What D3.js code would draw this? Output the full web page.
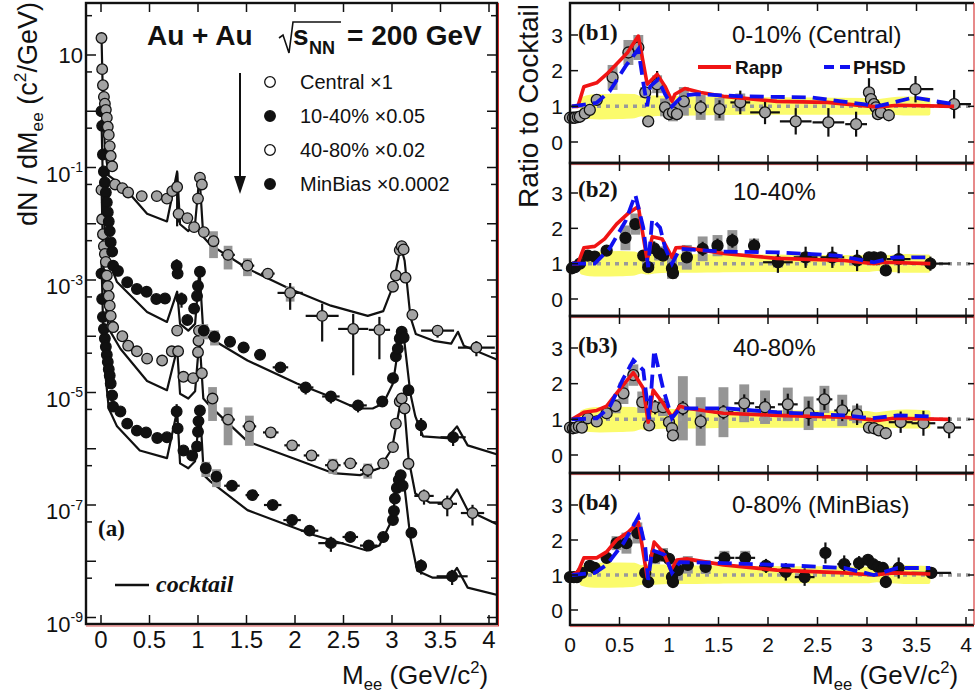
<!DOCTYPE html>
<html><head><meta charset="utf-8">
<script src="https://cdn.jsdelivr.net/npm/d3@7"></script>
<style>
body{margin:0;background:#fff}
svg{display:block}
text{font-family:"Liberation Sans",Arial,Helvetica,sans-serif;fill:#111}
</style></head>
<body>
<svg id="c" width="976" height="697"></svg>
<script>
// ---------------- DATA: left panel (a) ----------------
// points: [M (GeV/c2), dN/dM, x half-width, rel. stat err, rel. sys err]
const central = [[0.005,20],[0.012,5.6],[0.02,2.9],[0.03,1.8],[0.04,1.36],[0.05,1.06],[0.06,0.77],[0.07,0.53],[0.08,0.38],[0.09,0.24],[0.10,0.16],[0.115,0.105],[0.145,0.05],[0.22,0.043],[0.28,0.036],[0.42,0.031],[0.575,0.031],[0.68,0.028],[0.735,0.038],[0.785,0.045,0,0.8,0],[0.80,0.015,0,0.3,0],[0.89,0.0126],[0.96,0.0087],[1.0,0.028],[1.02,0.066],[1.04,0.05],[1.06,0.0071,0,0.1,0],[1.16,0.0049,0,0.1,0.5],[1.31,0.0028,0.07,0.2,0.45],[1.51,0.0018,0.07,0.2,0.35],[1.72,0.0013,0.07,0.15,0.1],[1.95,5.9e-4,0.13,0.5,0.3],[2.28,2.3e-4,0.17,0.65,0],[2.60,1.35e-4,0.155,0.85,0],[2.87,1.3e-4,0.11,0.7,0],[3.01,7.6e-4],[3.04,1.2e-3],[3.08,3.4e-3],[3.10,4.0e-3],[3.12,3.5e-3],[3.14,1.1e-3],[3.21,2.4e-4,0.03,0.1,0],[3.47,1.26e-4,0.17,0.25,0],[3.87,6.3e-5,0.19,0.3,0]];
const semi = [[0.005,1.0],[0.012,0.55],[0.02,0.17],[0.03,0.085],[0.04,0.054],[0.05,0.036],[0.06,0.024],[0.07,0.016],[0.08,0.011],[0.09,7.4e-3],[0.10,4.7e-3],[0.115,3.2e-3],[0.125,1.8e-3],[0.175,1.45e-3],[0.27,9.1e-4],[0.37,6.9e-4],[0.47,6.2e-4],[0.57,4.6e-4],[0.66,4.7e-4],[0.78,1.8e-3,0,0.3,0],[0.79,1.3e-3],[0.83,4.6e-4,0,0.3,0],[0.89,1.95e-4],[0.96,3.1e-4],[0.99,5.2e-4],[1.0,7.8e-4],[1.02,1.4e-3],[1.06,1.26e-4,0,0,0.3],[1.17,9.8e-5,0,0.1,0.3],[1.33,8.0e-5,0.06,0.15,0],[1.47,6.3e-5,0.06,0.15,0],[1.64,4.7e-5,0.06,0.2,0],[1.85,2.8e-5,0.08,0.2,0],[2.11,1.23e-5,0.08,0.25,0],[2.37,8.5e-6,0.09,0.25,0],[2.65,5.9e-6,0.09,0.25,0],[2.90,6.9e-6,0.06,0.2,0],[3.01,1.8e-5],[3.04,4.4e-5],[3.06,6.0e-5],[3.08,9.1e-5],[3.10,1.2e-4],[3.12,9.5e-5],[3.17,1.1e-5,0.03,0.2,0],[3.30,2.6e-6,0.06,0.35,0],[3.63,1.6e-6,0.13,0.3,0]];
const periph = [[0.005,0.04],[0.012,0.012],[0.02,6.5e-3],[0.03,4.0e-3],[0.04,2.9e-3],[0.05,2.1e-3],[0.06,1.2e-3],[0.07,7.8e-4],[0.08,5.2e-4],[0.09,3.5e-4],[0.10,2.3e-4],[0.115,1.5e-4],[0.125,1.45e-4],[0.22,1.0e-4],[0.28,6.8e-5],[0.37,5.4e-5],[0.475,4.0e-5],[0.63,3.7e-5],[0.73,5.4e-5],[0.785,1.26e-4],[0.795,5.4e-5],[0.85,1.9e-5],[0.95,1.8e-5],[1.0,5.2e-5],[1.005,8.3e-5],[1.01,1.26e-4],[1.04,2.2e-5],[1.15,7.8e-6,0,0.1,0.6],[1.31,3.3e-6,0.07,0.15,0.65],[1.53,2.5e-6,0.07,0.15,0.55],[1.75,1.95e-6,0.08,0.15,0.2],[1.97,1.15e-6,0.08,0.2,0.2],[2.17,7.6e-7,0.08,0.2,0.2],[2.39,5.1e-7,0.08,0.25,0.3],[2.57,5.5e-7,0.07,0.2,0],[2.75,4.2e-7,0.08,0.25,0.3],[2.91,5.5e-7,0.06,0.2,0],[3.01,1.07e-6],[3.04,2.8e-6],[3.08,6.9e-6],[3.10,7.8e-6],[3.13,5.2e-6],[3.17,5.4e-7,0,0.15,0],[3.33,1.45e-7,0.1,0.3,0],[3.57,1.05e-7,0.1,0.4,0],[3.83,7.2e-8,0.12,0.4,0]];
const minbias = [[0.005,1.3e-3],[0.012,4.6e-4],[0.02,2.2e-4],[0.03,1.35e-4],[0.04,9.1e-5],[0.05,6.5e-5],[0.06,4.7e-5],[0.07,3.5e-5],[0.08,2.6e-5],[0.09,2.0e-5],[0.10,1.45e-5],[0.115,8.9e-6],[0.125,5.6e-6],[0.2,4.6e-6],[0.27,2.8e-6],[0.37,2.1e-6],[0.465,1.95e-6],[0.58,1.55e-6],[0.68,1.6e-6],[0.78,4.6e-6,0,0.35,0],[0.79,2.3e-6],[0.85,9.3e-7],[0.94,7.6e-7],[0.99,1.1e-6],[1.0,2.0e-6],[1.005,3.1e-6],[1.02,4.8e-6],[1.08,4.5e-7,0,0,0.3],[1.19,3.2e-7,0,0.1,0.35],[1.35,2.2e-7,0.08,0.15,0],[1.56,1.5e-7,0.07,0.15,0],[1.77,1.0e-7,0.09,0.15,0],[1.97,5.4e-8,0.09,0.2,0],[2.15,3.5e-8,0.09,0.2,0],[2.37,2.1e-8,0.13,0.3,0],[2.57,2.7e-8,0.08,0.2,0],[2.76,1.9e-8,0.09,0.2,0],[2.91,2.7e-8,0.06,0.2,0],[3.01,5.4e-8],[3.02,7.8e-8],[3.03,1.3e-7],[3.05,2.0e-7],[3.07,2.8e-7],[3.09,3.4e-7],[3.11,2.2e-7],[3.20,3.2e-8,0,0.15,0],[3.30,8.3e-9,0.06,0.3,0],[3.62,5.4e-9,0.16,0.3,0]];
// cocktails [M, dN/dM]
const cocktailCentral = [[0.005,22.6],[0.02,1.6],[0.04,0.21],[0.08,0.072],[0.23,0.046],[0.475,0.015],[0.68,0.011],[0.785,0.085],[0.815,0.0098],[0.9,0.0074],[0.97,0.01],[1.015,0.072],[1.055,0.0058],[1.13,0.0042],[1.51,0.0016],[1.95,6.9e-4],[2.37,3.5e-4],[2.75,2.3e-4],[2.91,2.8e-4],[3.01,7.8e-4],[3.09,4.0e-3],[3.13,2.2e-3],[3.19,2.2e-4],[3.245,1.1e-4],[3.43,8.3e-5],[3.61,7.4e-5],[3.68,1.2e-4],[3.74,6.8e-5],[4.09,3.8e-5]];
const cocktailSemi = [[0.005,0.71],[0.02,0.05],[0.04,6.5e-3],[0.08,2.2e-3],[0.165,9.2e-4],[0.475,2.7e-4],[0.68,1.8e-4],[0.785,6.2e-4],[0.815,1.66e-4],[0.9,1.26e-4],[0.97,1.66e-4],[1.015,1.55e-3],[1.055,1.15e-4],[1.13,9.1e-5],[1.51,3.7e-5],[2.02,1.45e-5],[2.36,8.5e-6],[2.64,5.2e-6],[2.80,5.2e-6],[2.91,6.4e-6],[3.01,1.45e-5],[3.09,1.2e-4],[3.13,7.4e-5],[3.19,9.5e-6],[3.24,3.8e-6],[3.32,1.66e-6],[3.57,1.55e-6],[3.67,2.5e-6],[3.78,1.15e-6],[4.09,7.9e-7]];
const cocktailPeriph = [[0.005,0.05],[0.02,3.5e-3],[0.04,4.6e-4],[0.08,1.35e-4],[0.2,6.0e-5],[0.475,1.6e-5],[0.68,1.1e-5],[0.785,6.0e-5],[0.815,9.5e-6],[0.9,7.8e-6],[0.97,1.05e-5],[1.015,9.1e-5],[1.055,7.8e-6],[1.13,5.6e-6],[1.51,1.35e-6],[1.98,6.8e-7],[2.39,3.7e-7],[2.67,3.4e-7],[2.87,4.5e-7],[3.0,1.0e-6],[3.09,6.9e-6],[3.13,4.8e-6],[3.17,6.8e-7],[3.24,1.6e-7],[3.39,1.1e-7],[3.57,1.1e-7],[3.67,1.9e-7],[3.78,8.1e-8],[4.09,4.5e-8]];
const cocktailMinBias = [[0.005,2.3e-3],[0.02,2.0e-4],[0.04,2.6e-5],[0.08,5.2e-6],[0.165,2.5e-6],[0.4,9.3e-7],[0.68,6.8e-7],[0.785,4.8e-6],[0.815,5.5e-7],[0.9,4.5e-7],[0.97,6.0e-7],[1.02,5.2e-6],[1.06,3.4e-7],[1.13,2.6e-7],[1.51,8.1e-8],[2.2,2.9e-8],[2.74,1.55e-8],[2.87,1.9e-8],[3.0,5.4e-8],[3.06,3.0e-7],[3.1,3.7e-7],[3.13,2.0e-7],[3.19,2.6e-8],[3.26,6.8e-9],[3.42,5.1e-9],[3.6,5.1e-9],[3.67,7.6e-9],[3.78,3.4e-9],[4.09,2.5e-9]];
const legendLabels = ["Central \u00d71","10-40% \u00d70.05","40-80% \u00d70.02","MinBias \u00d70.0002"];
const xTicks = [0,0.5,1,1.5,2,2.5,3,3.5,4];
const yDecades = [1,0,-1,-2,-3,-4,-5,-6,-7,-8,-9];
const yLabelExp = [1,-1,-3,-5,-7,-9];

// ---------------- DATA: right panels (b1-b4) ----------------
// points: [M, ratio, x half-width, stat err, sys err]
const ratioCentral = [[0.0,0.68],[0.03,0.68],[0.05,0.68],[0.08,0.70],[0.10,0.71],[0.15,0.80],[0.20,0.90],[0.27,1.18,0,0.1,0.1],[0.43,1.81,0,0.1,0.35],[0.59,2.51,0,0.12,0.35],[0.69,2.65,0,0.15,0.35],[0.76,1.39,0,0.12,0.15],[0.79,0.58,0,0.1,0],[0.88,1.62,0,0.37,0.25],[0.96,0.97,0,0.1,0.25],[1.0,0.78],[1.04,0.83,0,0,0.25],[1.08,0.78],[1.15,1.14,0,0.1,0.4],[1.32,0.97,0.05,0.2,0.35],[1.51,0.92,0.05,0.25,0.32],[1.72,1.11,0.1,0.33,0.25],[1.97,0.83,0.15,0.33,0],[2.28,0.58,0.16,0.37,0],[2.61,0.55,0.16,0.4,0],[2.89,0.50,0.11,0.35,0],[3.02,1.39,0,0.4,0],[3.04,1.20],[3.07,1.06],[3.09,0.97],[3.11,0.78],[3.14,0.83],[3.22,0.75],[3.49,1.48,0.18,0.37,0],[3.88,1.06,0.17,0.4,0]];
const ratioSemi = [[0.02,0.87],[0.05,0.9],[0.1,1.0],[0.18,1.23,0,0.1,0],[0.25,1.2,0,0.1,0],[0.37,1.37,0,0.1,0.1],[0.56,1.73,0,0.15,0.35],[0.66,2.12,0,0.15,0.3],[0.74,1.23,0,0.15,0],[0.79,0.9],[0.85,1.43,0,0.2,0],[0.9,1.29,0,0.15,0.2],[0.94,1.23],[1.03,0.87,0,0.1,0.3],[1.04,0.73],[1.18,1.18,0,0.15,0.35],[1.34,1.42,0,0.2,0.35],[1.49,1.51,0,0.2,0.3],[1.64,1.65,0,0.2,0.3],[1.86,1.51,0.06,0.2,0.2],[2.1,1.04,0.15,0.3,0.15],[2.38,1.18,0.12,0.3,0.15],[2.65,1.18,0.12,0.3,0.15],[2.9,1.09,0.08,0.3,0.1],[3.02,1.18],[3.07,1.18],[3.1,1.13],[3.14,1.18],[3.19,0.81],[3.32,1.13,0.12,0.4,0],[3.64,1.0,0.2,0.2,0]];
const ratioPeriph = [[0.0,0.77],[0.03,0.75],[0.06,0.77],[0.09,0.8],[0.12,0.77],[0.18,1.03,0,0.1,0],[0.27,0.94],[0.37,1.17,0,0.1,0],[0.46,1.37,0,0.1,0.2],[0.54,1.73,0,0.15,0.3],[0.64,2.24,0,0.15,0.3],[0.73,1.48,0,0.15,0.3],[0.80,0.83],[0.86,1.34,0,0.2,0],[0.94,1.34,0,0.15,0.25],[1.0,0.92],[1.03,0.75],[1.04,0.55],[1.14,1.31,0,0.2,0.9],[1.32,0.94,0,0.2,0.68],[1.55,1.2,0.1,0.2,0.7],[1.76,1.45,0.1,0.25,0.53],[1.97,1.34,0.1,0.25,0.47],[2.2,1.42,0.1,0.3,0.47],[2.41,1.17,0.1,0.35,0.47],[2.57,1.56,0.08,0.3,0.38],[2.75,1.25,0.08,0.3,0.44],[2.9,1.14,0.06,0.3,0.25],[3.02,0.77],[3.07,0.75],[3.12,0.69],[3.19,0.61],[3.34,0.92,0.12,0.3,0],[3.57,0.89,0.12,0.35,0],[3.83,0.77,0.12,0.3,0]];
const ratioMinBias = [[0.0,0.94],[0.04,0.94],[0.07,0.94],[0.12,1.06],[0.2,1.26,0,0.1,0],[0.25,1.2],[0.37,1.49,0,0.1,0],[0.47,1.91,0,0.1,0.2],[0.57,1.91,0,0.1,0.3],[0.68,2.2,0,0.12,0.3],[0.76,1.06,0,0.15,0],[0.79,0.8],[0.86,1.51,0,0.15,0.2],[0.94,1.57,0,0.1,0.2],[1.0,1.46],[1.03,0.94],[1.04,0.8],[1.09,1.14,0,0.1,0.3],[1.19,1.29,0,0.1,0.25],[1.37,1.23,0,0.1,0.2],[1.56,1.49,0.1,0.1,0.2],[1.77,1.49,0.1,0.12,0.2],[1.98,1.26,0.07,0.2,0],[2.18,1.09,0.07,0.25,0],[2.37,0.94,0.1,0.25,0],[2.58,1.63,0,0.3,0],[2.77,1.31,0.07,0.25,0],[2.92,1.34,0.05,0.2,0],[3.01,1.43],[3.06,1.31],[3.11,1.23],[3.16,1.2],[3.19,0.8],[3.32,1.2,0.06,0.3,0],[3.65,1.06,0.2,0.1,0]];
const rappCentral = [[0.02,1.0],[0.08,1.0],[0.14,1.55],[0.27,1.66],[0.37,1.9],[0.58,2.5],[0.69,2.97],[0.78,1.62],[0.88,1.9],[0.96,1.56],[1.03,1.14],[1.06,1.34],[1.16,1.5],[1.32,1.39],[1.55,1.28],[2.09,1.14],[2.6,1.11],[3.04,1.0],[3.11,0.98],[3.31,1.03],[3.88,1.0]];
const phsdCentral = [[0.02,1.0],[0.27,1.1],[0.40,1.42],[0.56,2.12],[0.69,2.6],[0.74,1.67],[0.78,1.0],[0.81,1.56],[0.89,1.75],[0.96,1.34],[1.03,1.0],[1.14,1.3],[1.28,1.34],[1.75,1.28],[2.43,1.25],[2.96,1.06],[3.10,1.0],[3.27,1.11],[3.47,1.25],[3.88,1.06]];
const rappSemi = [[0.02,1.0],[0.08,1.0],[0.14,1.45],[0.25,1.49],[0.35,1.7],[0.47,2.12],[0.59,2.43],[0.69,2.62],[0.78,1.09],[0.83,1.76],[0.93,1.7],[1.03,1.18],[1.07,1.45],[1.16,1.46],[1.55,1.29],[2.09,1.15],[2.77,1.09],[3.07,1.0],[3.17,1.04],[3.64,1.0]];
const phsdSemi = [[0.02,1.0],[0.25,1.0],[0.40,1.43],[0.56,2.2],[0.66,2.95],[0.74,2.02],[0.79,0.9],[0.83,2.26],[0.91,2.02],[0.96,1.46],[1.03,1.0],[1.11,1.42],[1.55,1.34],[2.09,1.32],[2.7,1.23],[3.07,1.04],[3.27,1.18],[3.62,1.18]];
const rappPeriph = [[0.02,1.0],[0.14,1.2],[0.27,1.25],[0.37,1.37],[0.51,1.87],[0.64,2.31],[0.74,1.87],[0.79,0.92],[0.84,1.82],[0.94,1.45],[1.03,1.06],[1.11,1.37],[1.18,1.31],[1.55,1.17],[2.09,1.11],[2.77,1.06],[3.11,0.97],[3.27,1.03],[3.82,1.0]];
const phsdPeriph = [[0.02,1.0],[0.27,1.03],[0.40,1.34],[0.53,2.1],[0.64,2.66],[0.74,2.38],[0.80,1.0],[0.85,2.94],[0.94,1.87],[1.03,1.03],[1.11,1.31],[1.55,1.31],[2.09,1.2],[2.77,1.11],[3.04,1.03],[3.31,1.11],[3.68,1.08]];
const rappMinBias = [[0.02,1.0],[0.08,1.09],[0.14,1.49],[0.27,1.49],[0.37,1.66],[0.47,2.0],[0.59,2.23],[0.69,2.51],[0.78,0.94],[0.85,1.94],[0.94,1.66],[1.02,1.14],[1.08,1.43],[1.18,1.46],[1.55,1.29],[2.09,1.14],[2.77,1.06],[3.07,1.0],[3.27,1.06],[3.64,1.03]];
const phsdMinBias = [[0.02,1.0],[0.25,1.06],[0.37,1.29],[0.54,1.91],[0.69,2.66],[0.76,1.8],[0.79,0.86],[0.83,1.71],[0.96,1.57],[1.03,1.06],[1.11,1.37],[1.55,1.34],[2.09,1.29],[2.77,1.2],[3.07,1.0],[3.31,1.2],[3.64,1.2]];
// cocktail systematic band (ratio)
const bandM  = [0.12,0.2,0.3,0.5,0.65,0.72,0.78,0.85,1.0,1.2,1.5,2.0,2.5,3.0,3.1,3.2,3.4,3.62];
const bandLo = [0.75,0.70,0.69,0.70,0.72,0.78,0.75,0.78,0.80,0.80,0.81,0.82,0.82,0.82,0.85,0.83,0.80,0.80];
const bandHi = [1.20,1.27,1.29,1.30,1.29,1.22,1.25,1.25,1.24,1.22,1.21,1.20,1.19,1.18,1.14,1.18,1.22,1.20];
const panelTags = ["(b1)","(b2)","(b3)","(b4)"];
const panelTitles = ["0-10% (Central)","10-40%","40-80%","0-80% (MinBias)"];
const ratioTicks = [0,1,2,3];

// ---------------- DRAWING ----------------
const svg = d3.select('#c');
const GREY = '#a3a3a3', BLACK = '#111', SYS = '#959595';

function rich(g, x, y, size, parts, attrs) {
  const t = g.append('text').attr('x', x).attr('y', y).attr('font-size', size);
  for (const k in (attrs||{})) t.attr(k, attrs[k]);
  let cur = 0;
  parts.forEach(p => {
    let off = 0, fs = size;
    if (p[1] === 'sub') { off = size*0.24; fs = size*0.64; }
    if (p[1] === 'sup') { off = -size*0.42; fs = size*0.64; }
    t.append('tspan').text(p[0]).attr('dy', off - cur).attr('font-size', fs);
    cur = off;
  });
  return t;
}

// ===== Left panel =====
const L = {x0:86, x1:497, y0:3, y1:624};
const xL = d3.scaleLinear().domain([0,4]).range([101,489]);
const yL = d3.scaleLog().domain([1e-9,10]).range([617.5,55]);
svg.append('clipPath').attr('id','clipL').append('rect')
  .attr('x',L.x0).attr('y',L.y0).attr('width',L.x1-L.x0).attr('height',L.y1-L.y0);
const gL = svg.append('g').attr('clip-path','url(#clipL)');

const lineL = d3.line().x(d=>xL(d[0])).y(d=>yL(d[1]));
[cocktailCentral,cocktailSemi,cocktailPeriph,cocktailMinBias].forEach(c=>{
  gL.append('path').attr('d',lineL(c)).attr('fill','none').attr('stroke',BLACK).attr('stroke-width',2.2).attr('stroke-linejoin','round');
});

function drawLogSeries(data, fill){
  const g = gL.append('g');
  data.forEach(d=>{
    const [m,v,dx=0,e=0,s=0] = d;
    if (s>0) g.append('rect').attr('x',xL(m-0.045)).attr('width',xL(m+0.045)-xL(m-0.045))
      .attr('y',yL(v*(1+s))).attr('height',yL(Math.max(v*(1-s),v*0.05))-yL(v*(1+s))).attr('fill',SYS);
  });
  data.forEach(d=>{
    const [m,v,dx=0,e=0] = d;
    if (dx>0) g.append('line').attr('x1',xL(m-dx)).attr('x2',xL(m+dx)).attr('y1',yL(v)).attr('y2',yL(v)).attr('stroke',BLACK).attr('stroke-width',2.2);
    if (e>0) g.append('line').attr('x1',xL(m)).attr('x2',xL(m)).attr('y1',yL(v*(1+e))).attr('y2',yL(Math.max(v*(1-e),v*0.05))).attr('stroke',BLACK).attr('stroke-width',2.2);
  });
  data.forEach(d=>{
    g.append('circle').attr('cx',xL(d[0])).attr('cy',yL(d[1])).attr('r',5.3)
      .attr('fill',fill).attr('stroke',BLACK).attr('stroke-width',1.3);
  });
}
drawLogSeries(minbias, BLACK);
drawLogSeries(periph, GREY);
drawLogSeries(semi, BLACK);
drawLogSeries(central, GREY);

// frame & ticks
svg.append('rect').attr('x',L.x0).attr('y',L.y0).attr('width',L.x1-L.x0).attr('height',L.y1-L.y0)
  .attr('fill','none').attr('stroke',BLACK).attr('stroke-width',2.4);
svg.append('line').attr('x1',L.x1+1.5).attr('x2',L.x1+1.5).attr('y1',L.y0).attr('y2',L.y1+2).attr('stroke','#d42a2a').attr('stroke-width',1);
svg.append('line').attr('x1',L.x0).attr('x2',L.x1+2).attr('y1',L.y1+2).attr('y2',L.y1+2).attr('stroke','#d42a2a').attr('stroke-width',0.8);
const tk = svg.append('g').attr('stroke',BLACK).attr('stroke-width',1.5);
xTicks.forEach(t=>{
  tk.append('line').attr('x1',xL(t)).attr('x2',xL(t)).attr('y1',L.y1).attr('y2',L.y1-9);
  tk.append('line').attr('x1',xL(t)).attr('x2',xL(t)).attr('y1',L.y0).attr('y2',L.y0+9);
  svg.append('text').attr('x',xL(t)).attr('y',648).attr('text-anchor','middle').attr('font-size',24).text(String(t));
});
yDecades.forEach(k=>{
  const y1 = yL(Math.pow(10,k)), y5 = yL(5*Math.pow(10,k-1));
  tk.append('line').attr('x1',L.x0).attr('x2',L.x0+10).attr('y1',y1).attr('y2',y1);
  tk.append('line').attr('x1',L.x1).attr('x2',L.x1-10).attr('y1',y1).attr('y2',y1);
  if (y5 < L.y1-2) {
    tk.append('line').attr('x1',L.x0).attr('x2',L.x0+6).attr('y1',y5).attr('y2',y5);
    tk.append('line').attr('x1',L.x1).attr('x2',L.x1-6).attr('y1',y5).attr('y2',y5);
  }
});
const y5top = yL(50);
tk.append('line').attr('x1',L.x0).attr('x2',L.x0+6).attr('y1',y5top).attr('y2',y5top);
tk.append('line').attr('x1',L.x1).attr('x2',L.x1-6).attr('y1',y5top).attr('y2',y5top);
yLabelExp.forEach(k=>{
  const y = yL(Math.pow(10,k));
  if (k===1) svg.append('text').attr('x',83).attr('y',y+8).attr('text-anchor','end').attr('font-size',22).text('10');
  else rich(svg, 83, y+14, 22, [['10','n'],[String(k),'sup']], {'text-anchor':'end'});
});
// axis titles
rich(svg, 342, 684, 26, [['M','n'],['ee','sub'],[' (GeV/c','n'],['2','sup'],[')','n']]);
rich(svg, 0, 0, 27, [['dN / dM','n'],['ee','sub'],[' (c','n'],['2','sup'],['/GeV)','n']],
  {'text-anchor':'middle','transform':'translate(37,114) rotate(-90)'});
// title
svg.append('text').attr('x',147).attr('y',45).attr('font-size',28).attr('font-weight','bold').text('Au + Au');
svg.append('path').attr('d','M279,38 L283,35 L289,53 L293,22 L341,22').attr('fill','none').attr('stroke',BLACK).attr('stroke-width',1.6);
svg.append('text').attr('x',293).attr('y',45).attr('font-size',28).attr('font-weight','bold').text('s');
svg.append('text').attr('x',309).attr('y',54).attr('font-size',18).attr('font-weight','bold').text('NN');
svg.append('text').attr('x',347).attr('y',45).attr('font-size',28).attr('font-weight','bold').text('= 200 GeV');
// legend
const legFill = ['#fff',BLACK,'#fff',BLACK];
legendLabels.forEach((lab,i)=>{
  const cy = 82 + i*34;
  svg.append('circle').attr('cx',270).attr('cy',cy).attr('r',5.3).attr('fill',legFill[i]).attr('stroke',BLACK).attr('stroke-width',1.3);
  svg.append('text').attr('x',300).attr('y',cy+7).attr('font-size',20).text(lab);
});
svg.append('line').attr('x1',240).attr('x2',240).attr('y1',73).attr('y2',180).attr('stroke',BLACK).attr('stroke-width',2);
svg.append('path').attr('d','M234,176 L246,176 L240,194 Z').attr('fill',BLACK);
svg.append('text').attr('x',98).attr('y',536).attr('font-size',23).attr('font-weight','bold')
  .style('font-family','"Liberation Serif","Times New Roman",serif').text('(a)');
svg.append('line').attr('x1',115).attr('x2',149).attr('y1',585).attr('y2',585).attr('stroke',BLACK).attr('stroke-width',2.5);
svg.append('text').attr('x',156).attr('y',592).attr('font-size',24).attr('font-weight','bold').attr('font-style','italic')
  .style('font-family','"Liberation Serif","Times New Roman",serif').text('cocktail');

// ===== Right panels =====
const R = {x0:570, x1:974};
const xR = d3.scaleLinear().domain([0,4]).range([570,966]);
const panels = [
  {top:3,   bot:163, y0:142, y3:35,  pts:ratioCentral, fill:GREY,  rapp:rappCentral, phsd:phsdCentral, tagY:40,  titleX:732},
  {top:163, bot:316, y0:299, y3:193, pts:ratioSemi,    fill:BLACK, rapp:rappSemi,    phsd:phsdSemi,    tagY:197, titleX:733},
  {top:316, bot:473, y0:455, y3:348, pts:ratioPeriph,  fill:GREY,  rapp:rappPeriph,  phsd:phsdPeriph,  tagY:353, titleX:733},
  {top:473, bot:625, y0:610, y3:505, pts:ratioMinBias, fill:BLACK, rapp:rappMinBias, phsd:phsdMinBias, tagY:510, titleX:732}
];
const band = bandM.map((m,i)=>[m,bandLo[i],bandHi[i]]);
panels.forEach((p,i)=>{
  const yR = d3.scaleLinear().domain([0,3]).range([p.y0,p.y3]);
  const cid = 'clipR'+i;
  svg.append('clipPath').attr('id',cid).append('rect').attr('x',R.x0).attr('y',p.top).attr('width',R.x1-R.x0).attr('height',p.bot-p.top);
  const g = svg.append('g').attr('clip-path','url(#'+cid+')');
  g.append('path').attr('d', d3.area().x(d=>xR(d[0])).y0(d=>yR(d[1])).y1(d=>yR(d[2])).curve(d3.curveMonotoneX)(band))
    .attr('fill','#fbfb6c').attr('stroke','#fbfb6c').attr('stroke-width',4).attr('stroke-linejoin','round');
  p.pts.forEach(d=>{
    const [m,v,dx=0,e=0,s=0] = d;
    if (s>0) g.append('rect').attr('x',xR(m-0.05)).attr('width',xR(m+0.05)-xR(m-0.05)).attr('y',yR(v+s)).attr('height',yR(v-s)-yR(v+s)).attr('fill',SYS);
  });
  g.append('line').attr('x1',xR(0)).attr('x2',R.x1).attr('y1',yR(1)).attr('y2',yR(1))
    .attr('stroke','#9a9a9a').attr('stroke-width',3.5).attr('stroke-dasharray','4,5');
  p.pts.forEach(d=>{
    const [m,v,dx=0,e=0] = d;
    if (dx>0) g.append('line').attr('x1',xR(m-dx)).attr('x2',xR(m+dx)).attr('y1',yR(v)).attr('y2',yR(v)).attr('stroke',BLACK).attr('stroke-width',2.2);
    if (e>0) g.append('line').attr('x1',xR(m)).attr('x2',xR(m)).attr('y1',yR(v+e)).attr('y2',yR(v-e)).attr('stroke',BLACK).attr('stroke-width',2.2);
  });
  p.pts.forEach(d=>{
    svg.append('circle').attr('cx',xR(d[0])).attr('cy',yR(d[1])).attr('r',5.5)
      .attr('fill',p.fill).attr('stroke',BLACK).attr('stroke-width',1.3);
  });
  const ln = d3.line().x(d=>xR(d[0])).y(d=>yR(d[1]));
  const gm = svg.append('g').attr('clip-path','url(#'+cid+')');
  gm.append('path').attr('d',ln(p.rapp)).attr('fill','none').attr('stroke','#f01414').attr('stroke-width',3.6).attr('stroke-linejoin','round');
  gm.append('path').attr('d',ln(p.phsd)).attr('fill','none').attr('stroke','#1010f0').attr('stroke-width',3.8).attr('stroke-dasharray','14,7');
  svg.append('path').attr('d',`M${R.x1},${p.top} L${R.x0},${p.top} L${R.x0},${p.bot} L${R.x1},${p.bot}`)
    .attr('fill','none').attr('stroke',BLACK).attr('stroke-width',2.4);
  svg.append('line').attr('x1',R.x1).attr('x2',R.x1).attr('y1',p.top).attr('y2',p.bot).attr('stroke','#d42a2a').attr('stroke-width',1.1);
  svg.append('line').attr('x1',R.x0).attr('x2',R.x1).attr('y1',p.bot+1.6).attr('y2',p.bot+1.6).attr('stroke','#d42a2a').attr('stroke-width',0.7);
  const t2 = svg.append('g').attr('stroke',BLACK).attr('stroke-width',1.5);
  xTicks.forEach(t=>{
    t2.append('line').attr('x1',xR(t)).attr('x2',xR(t)).attr('y1',p.bot).attr('y2',p.bot-8);
    t2.append('line').attr('x1',xR(t)).attr('x2',xR(t)).attr('y1',p.top).attr('y2',p.top+8);
  });
  ratioTicks.forEach(t=>{
    t2.append('line').attr('x1',R.x0).attr('x2',R.x0+8).attr('y1',yR(t)).attr('y2',yR(t));
    t2.append('line').attr('x1',R.x1).attr('x2',R.x1-6).attr('y1',yR(t)).attr('y2',yR(t));
    svg.append('text').attr('x',563).attr('y',yR(t)+7.5).attr('text-anchor','end').attr('font-size',21).text(String(t));
  });
  svg.append('text').attr('x',578).attr('y',p.tagY).attr('font-size',23).attr('font-weight','bold')
    .style('font-family','"Liberation Serif","Times New Roman",serif').text(panelTags[i]);
  svg.append('text').attr('x',p.titleX).attr('y',p.tagY+3).attr('font-size',24).text(panelTitles[i]);
});
// model legend (b1)
svg.append('line').attr('x1',698).attr('x2',731).attr('y1',67).attr('y2',67).attr('stroke','#f01414').attr('stroke-width',4);
svg.append('text').attr('x',735).attr('y',74).attr('font-size',19).attr('font-weight','bold').text('Rapp');
svg.append('line').attr('x1',824).attr('x2',850).attr('y1',67).attr('y2',67).attr('stroke','#1010f0').attr('stroke-width',4).attr('stroke-dasharray','10,6');
svg.append('text').attr('x',853).attr('y',74).attr('font-size',19).attr('font-weight','bold').text('PHSD');
// right axis labels
xTicks.forEach(t=>{
  svg.append('text').attr('x',xR(t)).attr('y',652).attr('text-anchor','middle').attr('font-size',21).text(String(t));
});
rich(svg, 812, 684, 26, [['M','n'],['ee','sub'],[' (GeV/c','n'],['2','sup'],[')','n']]);
svg.append('text').attr('transform','translate(538,106) rotate(-90)').attr('text-anchor','middle').attr('font-size',28).text('Ratio to Cocktail');
</script>
</body></html>
